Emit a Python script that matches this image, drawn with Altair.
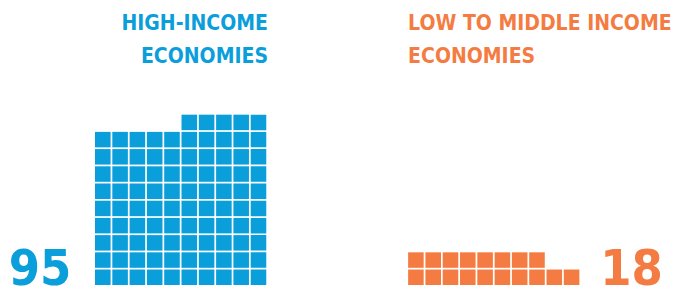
import altair as alt
import pandas as pd

# ---- data -------------------------------------------------------------
groups = ["High-income", "Low to middle income"]
title_line1 = ["HIGH-INCOME", "LOW TO MIDDLE INCOME"]
title_line2 = ["ECONOMIES", "ECONOMIES"]
counts = [95, 18]
colors = ["#0a9edb", "#f47c42"]
COLS = 10

# layout helpers (grid units)
grid_offset = [0.0, 18.1]
partial_side = ["right", "left"]
title_anchor = [("right", 10.0), ("left", 18.1)]
number_anchor = [("center", -3.18), ("center", 31.01)]

# ---- build tables -----------------------------------------------------
cells = []
for g, n, off, side in zip(groups, counts, grid_offset, partial_side):
    full, rem = divmod(n, COLS)
    for r in range(full):
        for c in range(COLS):
            cells.append({"group": g, "x": off + c, "x2": off + c + 0.9, "y": r, "y2": r + 0.9})
    if rem:
        start = COLS - rem if side == "right" else 0
        for c in range(start, start + rem):
            cells.append({"group": g, "x": off + c, "x2": off + c + 0.9, "y": full, "y2": full + 0.9})
cells = pd.DataFrame(cells)

titles = []
for g, l1, l2, (al, xx) in zip(groups, title_line1, title_line2, title_anchor):
    titles.append({"group": g, "text": l1, "x": xx, "y": 14.83, "align": al})
    titles.append({"group": g, "text": l2, "x": xx, "y": 12.91, "align": al})
titles = pd.DataFrame(titles)

numbers = pd.DataFrame([
    {"group": g, "text": str(n), "x": xx, "y": 0.0, "align": al}
    for g, n, (al, xx) in zip(groups, counts, number_anchor)
])

xs = alt.Scale(domain=[-5.03, 33.47], nice=False, zero=False)
ys = alt.Scale(domain=[-0.29, 16.1], nice=False, zero=False)
cs = alt.Scale(domain=groups, range=colors)

FONT = "DejaVu Sans Condensed, Liberation Sans"

squares = alt.Chart(cells).mark_rect().encode(
    x=alt.X("x:Q", scale=xs, axis=None),
    x2="x2:Q",
    y=alt.Y("y:Q", scale=ys, axis=None),
    y2="y2:Q",
    color=alt.Color("group:N", scale=cs, legend=None),
)

def text_layer(df, align, size):
    return alt.Chart(df).transform_filter(alt.datum.align == align).mark_text(
        align=align, baseline="alphabetic", font=FONT, fontWeight="bold", fontSize=size
    ).encode(
        x=alt.X("x:Q", scale=xs, axis=None),
        y=alt.Y("y:Q", scale=ys, axis=None),
        text="text:N",
        color=alt.Color("group:N", scale=cs, legend=None),
    )

chart = alt.layer(
    squares,
    text_layer(titles, "right", 21),
    text_layer(titles, "left", 21),
    text_layer(numbers, "center", 50),
).properties(
    width=666, height=282, padding=0, autosize=alt.AutoSizeParams(type="none")
).configure_view(stroke=None)

chart.save("out.html", embed_options={"renderer": "svg", "actions": False})
